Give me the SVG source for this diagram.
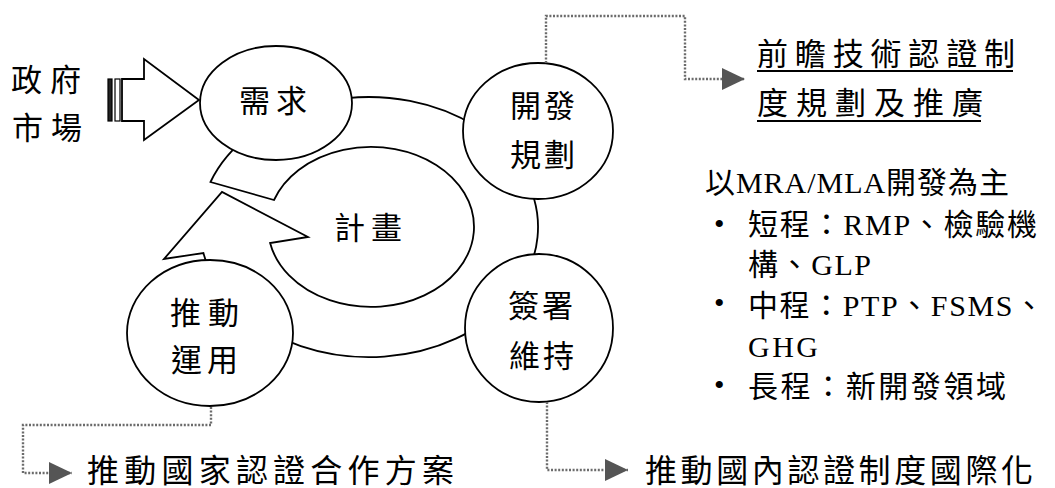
<svg xmlns="http://www.w3.org/2000/svg" width="1055" height="488" viewBox="0 0 1055 488">
<style>
.shape{fill:#fff;stroke:#000;stroke-width:1.8}
.conn{fill:none;stroke:#6b6b6b;stroke-width:2.4;stroke-dasharray:2 1.6}
.t{font-family:"Liberation Serif","Noto Sans CJK TC",serif;fill:#000}
.n{font-size:31px}
.b{font-size:30px}
.big{font-size:32px}
.ul{stroke:#000;stroke-width:2}
</style>
<defs>
<marker id="ah" markerUnits="userSpaceOnUse" markerWidth="23" markerHeight="22" viewBox="0 0 23 22" refX="23" refY="11" orient="auto">
<path d="M0,0 L23,11 L0,22 Z" fill="#555"/>
</marker>
</defs>
<rect width="1055" height="488" fill="#fff"/>

<g id="cycle">
<path class="shape" d="M210.5,182 A169,130 0 1 1 203.4,253 L164,259 L222,192 L308,237 L270.1,243 A103,80 0 1 0 274,200 Z"/>
</g>

<g id="node-plan">
<text class="t n" x="334" y="239" textLength="68">計畫</text>
</g>

<g id="input-arrow">
<rect x="108" y="79" width="4" height="42" fill="#222" stroke="#000" stroke-width="1.2"/>
<rect x="115" y="79" width="5" height="42" fill="#fff" stroke="#000" stroke-width="1.2"/>
<path class="shape" d="M122,79 H144 V59 L199,100 L144,140 V121 H122 Z"/>
</g>

<g id="node-source">
<text class="t n" x="11" y="91" textLength="70">政府</text>
<text class="t n" x="12" y="139" textLength="70">市場</text>
</g>

<g id="node-demand">
<ellipse class="shape" cx="276" cy="103" rx="76" ry="57"/>
<text class="t n" x="239" y="112" textLength="68">需求</text>
</g>

<g id="node-develop">
<ellipse class="shape" cx="538" cy="131" rx="75" ry="68"/>
<text class="t n" x="510" y="117" textLength="65">開發</text>
<text class="t n" x="510" y="166" textLength="65">規劃</text>
</g>

<g id="node-sign">
<ellipse class="shape" cx="539" cy="328" rx="74" ry="74"/>
<text class="t n" x="508" y="317" textLength="65">簽署</text>
<text class="t n" x="509" y="367" textLength="65">維持</text>
</g>

<g id="node-promote">
<ellipse class="shape" cx="210" cy="333" rx="83" ry="73"/>
<text class="t n" x="170" y="324" textLength="69">推動</text>
<text class="t n" x="171" y="371" textLength="67">運用</text>
</g>

<g id="connectors">
<path class="conn" d="M546,63 V16 H685 V79 H745" marker-end="url(#ah)"/>
<path class="conn" d="M211,407 V425 H23 V473 H72" marker-end="url(#ah)"/>
<path class="conn" d="M547,402 V470 H628" marker-end="url(#ah)"/>
</g>

<g id="node-forward">
<text class="t n" x="757" y="65" textLength="258">前瞻技術認證制</text>
<line class="ul" x1="757" y1="71" x2="1013" y2="71"/>
<text class="t n" x="757" y="114" textLength="226">度規劃及推廣</text>
<line class="ul" x1="757" y1="121" x2="981" y2="121"/>
</g>

<g id="node-details">
<text class="t b" x="705" y="193" textLength="304">以MRA/MLA開發為主</text>
<text class="t b" x="714" y="234">•</text>
<text class="t b" x="748" y="235" textLength="289">短程：RMP、檢驗機</text>
<text class="t b" x="748" y="275" textLength="123">構、GLP</text>
<text class="t b" x="714" y="313">•</text>
<text class="t b" x="748" y="316" textLength="296">中程：PTP、FSMS、</text>
<text class="t b" x="748" y="357" textLength="70">GHG</text>
<text class="t b" x="714" y="395">•</text>
<text class="t b" x="748" y="397" textLength="258">長程：新開發領域</text>
</g>

<g id="node-national">
<text class="t big" x="87" y="482" textLength="367">推動國家認證合作方案</text>
</g>

<g id="node-international">
<text class="t big" x="645" y="482" textLength="388">推動國內認證制度國際化</text>
</g>
</svg>
